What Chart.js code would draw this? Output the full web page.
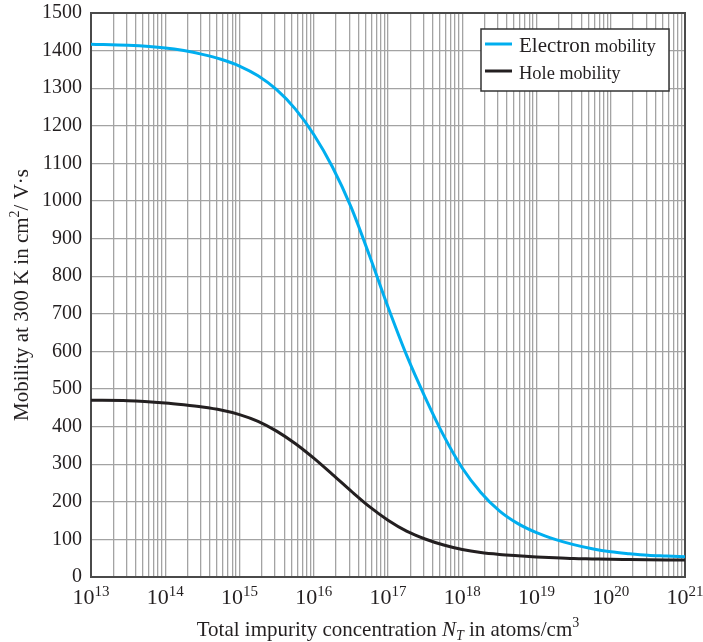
<!DOCTYPE html>
<html>
<head>
<meta charset="utf-8">
<script src="https://cdn.jsdelivr.net/npm/chart.js@4.4.1/dist/chart.umd.min.js"></script>
<style>
  html, body { margin: 0; padding: 0; background: #fff; }
  canvas { display: block; }
</style>
</head>
<body>
<canvas id="myChart" width="703" height="642"></canvas>
<script>
// log10 of total impurity concentration (atoms/cm3)
const logConcentration = [13, 13.5, 14, 14.25, 14.5, 14.75, 15, 15.25, 15.5, 15.75, 16, 16.25, 16.5, 16.75, 17, 17.25, 17.5, 17.75, 18, 18.25, 18.5, 18.75, 19, 19.25, 19.5, 19.75, 20, 20.25, 20.5, 20.75, 21];
// mobility at 300 K, cm2/V.s
const electronMobility = [1417, 1414, 1407, 1400, 1390, 1377, 1359, 1333, 1296, 1245, 1177, 1091, 985, 855, 718, 590, 478, 376, 290, 225, 176, 142, 118, 100, 86, 75, 67, 62, 58, 56, 54];
const holeMobility = [470, 469, 463, 458, 452, 444, 432, 414, 388, 355, 316, 273, 229, 187, 151, 122, 101, 85, 73, 65, 60, 56.5, 53.5, 51, 49, 48, 47, 46.5, 46, 45.5, 45];
const seriesNames = ['Electron mobility', 'Hole mobility'];
const seriesColors = ['#00aeef', '#231f20'];
const decadeExponents = [13, 14, 15, 16, 17, 18, 19, 20, 21];
const mobilityMin = 0, mobilityMax = 1500, mobilityStep = 100;

const SERIF = "'Liberation Serif', 'Times New Roman', serif";
const INK = '#231f20';
const ctx = document.getElementById('myChart').getContext('2d');

function toPoints(values) {
    return logConcentration.map((e, i) => ({ x: Math.pow(10, e), y: values[i] }));
}

// draws a run of [text, size, italic, dy] pieces starting at x
function drawRuns(c, runs, x, y) {
    runs.forEach(r => {
        c.font = (r[2] ? 'italic ' : '') + r[1] + 'px ' + SERIF;
        c.fillText(r[0], x, y + (r[3] || 0));
        x += c.measureText(r[0]).width;
    });
}
function runsWidth(c, runs) {
    let w = 0;
    runs.forEach(r => {
        c.font = (r[2] ? 'italic ' : '') + r[1] + 'px ' + SERIF;
        w += c.measureText(r[0]).width;
    });
    return w;
}

const decorations = {
    id: 'decorations',
    beforeDatasetsDraw(chart) {
        const c = chart.ctx, a = chart.chartArea;
        c.save();
        c.strokeStyle = '#4a4a4a';
        c.lineWidth = 2;
        c.strokeRect(a.left, a.top, a.right - a.left, a.bottom - a.top);
        c.restore();
    },
    afterDraw(chart) {
        const c = chart.ctx, a = chart.chartArea, xs = chart.scales.x;
        c.save();
        c.fillStyle = INK;
        c.textBaseline = 'alphabetic';

        // x tick labels 10^n
        decadeExponents.forEach(e => {
            const px = xs.getPixelForValue(Math.pow(10, e));
            const runs = [['10', 22], [String(e), 15, false, -8]];
            drawRuns(c, runs, px - runsWidth(c, runs) / 2, 604);
        });

        // x title
        const xt = [['Total impurity concentration ', 21], ['N', 21, true], ['T', 14, true, 4],
                    [' in atoms/cm', 21], ['3', 14, false, -9]];
        drawRuns(c, xt, (a.left + a.right) / 2 - runsWidth(c, xt) / 2, 636);

        // y title
        const yt = [['Mobility at 300 K in cm', 21], ['2', 14, false, -9], ['/ V\u00b7s', 21]];
        c.translate(28, (a.top + a.bottom) / 2);
        c.rotate(-Math.PI / 2);
        drawRuns(c, yt, -runsWidth(c, yt) / 2, 0);
        c.setTransform(1, 0, 0, 1, 0, 0);

        // legend
        const bx = 481, by = 29, bw = 188, bh = 62;
        c.fillStyle = '#fff';
        c.fillRect(bx, by, bw, bh);
        c.strokeStyle = '#333';
        c.lineWidth = 1.5;
        c.strokeRect(bx, by, bw, bh);
        const rowY = [44, 71];
        const leadSizes = [21, 18.5];
        chart.data.datasets.forEach((ds, i) => {
            c.strokeStyle = ds.borderColor;
            c.lineWidth = 3;
            c.beginPath();
            c.moveTo(485, rowY[i]);
            c.lineTo(512, rowY[i]);
            c.stroke();
            const words = ds.label.split(' ');
            c.fillStyle = INK;
            drawRuns(c, [[words[0], leadSizes[i]], [' ' + words.slice(1).join(' '), 18]], 519, rowY[i] + 8);
        });
        c.restore();
    }
};

new Chart(ctx, {
    type: 'line',
    data: {
        datasets: [{
            label: seriesNames[0],
            data: toPoints(electronMobility),
            borderColor: seriesColors[0],
            borderWidth: 3,
            pointRadius: 0,
            cubicInterpolationMode: 'monotone'
        }, {
            label: seriesNames[1],
            data: toPoints(holeMobility),
            borderColor: seriesColors[1],
            borderWidth: 3,
            pointRadius: 0,
            cubicInterpolationMode: 'monotone'
        }]
    },
    options: {
        responsive: false,
        animation: false,
        layout: { padding: { top: 13, right: 18, left: 0, bottom: 0 } },
        plugins: {
            legend: { display: false },
            tooltip: { enabled: false }
        },
        scales: {
            x: {
                type: 'logarithmic',
                min: Math.pow(10, decadeExponents[0]),
                max: Math.pow(10, decadeExponents[decadeExponents.length - 1]),
                ticks: { display: false, autoSkip: false },
                grid: { color: '#a3a3a3', lineWidth: 1.3, drawTicks: false },
                border: { display: false },
                afterBuildTicks(scale) {
                    const ticks = [];
                    decadeExponents.slice(0, -1).forEach(e => {
                        for (let m = 1; m < 10; m++) ticks.push({ value: m * Math.pow(10, e) });
                    });
                    ticks.push({ value: scale.max });
                    scale.ticks = ticks;
                },
                afterFit(scale) {
                    scale.height = 65;
                    scale.paddingLeft = 0;
                    scale.paddingRight = 0;
                }
            },
            y: {
                min: mobilityMin,
                max: mobilityMax,
                ticks: {
                    stepSize: mobilityStep,
                    color: INK,
                    padding: 9,
                    font: { family: SERIF, size: 20 },
                    callback: v => String(v)
                },
                grid: { color: '#a3a3a3', lineWidth: 1.3, drawTicks: false },
                border: { display: false },
                afterFit(scale) {
                    scale.width = 91;
                    scale.paddingTop = 0;
                    scale.paddingBottom = 0;
                }
            }
        }
    },
    plugins: [decorations]
});
</script>
</body>
</html>
